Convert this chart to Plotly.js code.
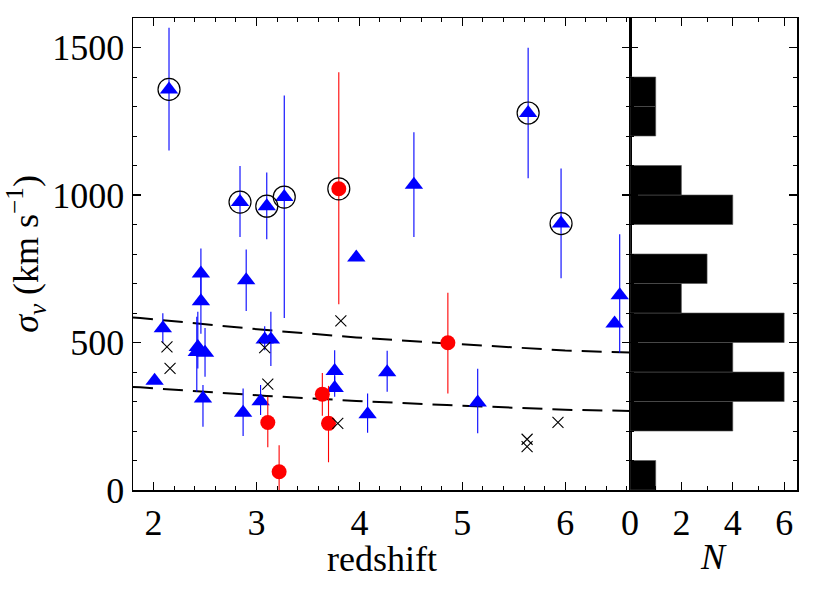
<!DOCTYPE html>
<html>
<head>
<meta charset="utf-8">
<script src="https://cdn.plot.ly/plotly-3.0.1.min.js"></script>
<style>
  html, body { margin: 0; padding: 0; background: #fff; }
  #chart { width: 830px; height: 593px; }
</style>
</head>
<body>
<div id="chart"></div>
<script>
// blue triangles: redshift, velocity dispersion and asymmetric errors
const triZ     = [2.15, 2.84, 3.10, 3.27, 5.64, 5.96, 4.53, 3.97, 2.90, 2.46, 2.46, 2.09, 2.43, 2.42, 2.50, 2.48, 2.01, 2.87, 3.04, 3.08, 3.14, 3.76, 3.76, 4.08, 4.27, 5.15, 6.53, 6.48];
const triSigma = [1358, 976, 962, 993, 1278, 903, 1035, 788, 711, 734, 640, 548, 485, 468, 465, 310, 370, 262, 301, 510, 510, 403, 346, 257, 399, 297, 660, 564];
const triErrUp = [209, 122, 114, 344, 221, 187, 178, 0, 104, 85, 90, 51, 119, 119, 84, 46, 0, 82, 55, 45, 94, 71, 40, 70, 73, 114, 207, 0];
const triErrDn = [207, 118, 112, 410, 221, 185, 177, 0, 104, 95, 110, 50, 73, 135, 81, 96, 0, 79, 47, 36, 90, 50, 30, 63, 66, 105, 195, 0];

// red circles
const redZ     = [3.80, 3.11, 3.22, 3.64, 3.70, 4.86];
const redSigma = [1021, 229, 62, 325, 226, 499];
const redErrUp = [395, 87, 90, 72, 127, 170];
const redErrDn = [391, 84, 62, 73, 132, 172];

// black crosses
const crossZ     = [2.13, 2.16, 3.08, 3.11, 3.82, 3.79, 5.63, 5.63, 5.93];
const crossSigma = [485, 412, 483, 359, 573, 226, 172, 147, 229];

// ringed objects
const ringZ     = [2.15, 2.84, 3.10, 3.27, 3.80, 5.64, 5.96];
const ringSigma = [1358, 976, 962, 993, 1021, 1278, 903];

// dashed reference curves
const curveZ     = [1.80, 1.87, 3.10, 3.97, 4.85, 5.62, 6.00, 6.63];
const curveUpper = [585, 583, 542, 517, 497, 480, 473, 466];
const curveLower = [349, 348, 319, 302, 288, 277, 272, 268];

// histogram of sigma_v, 100 km/s bins
const binCentres = [50, 150, 250, 350, 450, 550, 650, 750, 850, 950, 1050, 1150, 1250, 1350];
const binCounts  = [1, 0, 4, 6, 4, 6, 2, 3, 0, 4, 2, 0, 1, 1];

const serif = 'Liberation Serif, Times New Roman, serif';
const fs = 36;

const dash = { color: 'black', width: 2, dash: '20px,10px' };

const traces = [
  { x: curveZ, y: curveUpper, mode: 'lines', line: dash, hoverinfo: 'skip' },
  { x: curveZ, y: curveLower, mode: 'lines', line: dash, hoverinfo: 'skip' },
  {
    x: triZ, y: triSigma, mode: 'markers',
    marker: { symbol: 'triangle-up', size: 16, color: 'blue' },
    error_y: { type: 'data', symmetric: false, array: triErrUp, arrayminus: triErrDn,
               color: 'blue', thickness: 1.1, width: 0 }
  },
  {
    x: redZ, y: redSigma, mode: 'markers',
    marker: { symbol: 'circle', size: 15, color: 'red' },
    error_y: { type: 'data', symmetric: false, array: redErrUp, arrayminus: redErrDn,
               color: 'red', thickness: 1.1, width: 0 }
  },
  {
    x: crossZ, y: crossSigma, mode: 'markers',
    marker: { symbol: 'x-thin-open', size: 11, color: 'black', line: { width: 1.1, color: 'black' } }
  },
  {
    x: ringZ, y: ringSigma, mode: 'markers',
    marker: { symbol: 'circle-open', size: 22, color: 'black', line: { width: 1.2, color: 'black' } }
  },
  {
    type: 'bar', orientation: 'h', x: binCounts, y: binCentres, width: 100,
    xaxis: 'x2', yaxis: 'y2',
    marker: { color: 'black', line: { color: '#555', width: 0.6 } }
  }
];

const tickCommon = {
  ticks: 'inside', ticklen: 8, tickwidth: 1.2, tickcolor: 'black',
  mirror: 'allticks', showline: true, linecolor: 'black', linewidth: 1.5,
  showgrid: false, zeroline: false,
  tickfont: { family: serif, size: fs, color: 'black' }
};

const split = (630 - 133) / 664;

const layout = {
  width: 830, height: 593,
  margin: { l: 133, r: 33, t: 18, b: 103 },
  paper_bgcolor: 'white', plot_bgcolor: 'white',
  showlegend: false,
  xaxis: Object.assign({}, tickCommon, {
    domain: [0, split], range: [1.8, 6.63], tickvals: [2, 3, 4, 5, 6],
    minor: { dtick: 0.2, ticks: 'inside', ticklen: 4, tickcolor: 'black', tickwidth: 1 }
  }),
  yaxis: Object.assign({}, tickCommon, {
    range: [0, 1600], dtick: 500,
    minor: { dtick: 100, ticks: 'inside', ticklen: 4, tickcolor: 'black', tickwidth: 1 },
    title: { text: '<i>σ<sub>v</sub></i> (km s<sup>−1</sup>)', font: { family: serif, size: fs, color: 'black' }, standoff: 2 }
  }),
  xaxis2: Object.assign({}, tickCommon, {
    domain: [split, 1], range: [0, 6.5], tickvals: [0, 2, 4, 6], anchor: 'y2',
    minor: { dtick: 1, ticks: 'inside', ticklen: 4, tickcolor: 'black', tickwidth: 1 }
  }),
  yaxis2: Object.assign({}, tickCommon, {
    anchor: 'x2', range: [0, 1600], dtick: 500, showticklabels: false,
    minor: { dtick: 100, ticks: 'inside', ticklen: 4, tickcolor: 'black', tickwidth: 1 }
  }),
  annotations: [
    { text: 'redshift', xref: 'x domain', yref: 'paper', x: 0.5, y: -0.146,
      xanchor: 'center', yanchor: 'middle', showarrow: false,
      font: { family: serif, size: fs, color: 'black' } },
    { text: '<i>N</i>', xref: 'x2 domain', yref: 'paper', x: 0.5, y: -0.142,
      xanchor: 'center', yanchor: 'middle', showarrow: false,
      font: { family: serif, size: fs, color: 'black' } }
  ]
};

Plotly.newPlot('chart', traces, layout, { displayModeBar: false, staticPlot: true });
</script>
</body>
</html>
